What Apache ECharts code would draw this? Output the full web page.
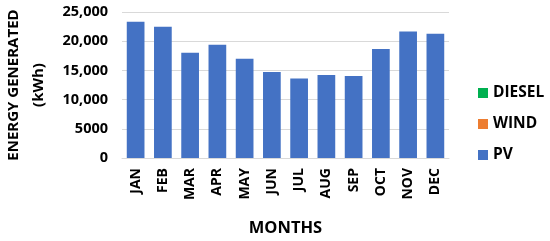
<!DOCTYPE html>
<html>
<head>
<meta charset="utf-8">
<script src="https://cdn.jsdelivr.net/npm/echarts@6/dist/echarts.min.js"></script>
<style>
html, body { margin: 0; padding: 0; background: #fff; }
#main { width: 550px; height: 241px; }
</style>
</head>
<body>
<div id="main"></div>
<script>
// months and energy per source (kWh)
var months = ['JAN', 'FEB', 'MAR', 'APR', 'MAY', 'JUN', 'JUL', 'AUG', 'SEP', 'OCT', 'NOV', 'DEC'];
var pv = [23330, 22470, 18040, 19400, 17010, 14730, 13600, 14220, 14050, 18650, 21670, 21280];
var wind = [0, 0, 0, 0, 0, 0, 0, 0, 0, 0, 0, 0];
var diesel = [0, 0, 0, 0, 0, 0, 0, 0, 0, 0, 0, 0];

var myChart = echarts.init(document.getElementById('main'));

var font = 'Open Sans';

option = {
    backgroundColor: '#ffffff',
    animation: false,
    textStyle: { fontFamily: font },
    legend: {
        orient: 'vertical',
        left: 473,
        top: 80,
        itemWidth: 10,
        itemHeight: 10,
        itemGap: 15,
        icon: 'rect',
        data: ['DIESEL', 'WIND', 'PV'],
        textStyle: {
            fontFamily: font,
            fontWeight: 'bold',
            fontSize: 15.5,
            color: '#000'
        }
    },
    grid: {
        left: 122,
        right: 101,
        top: 12,
        bottom: 83,
        containLabel: false,
        outerBoundsMode: 'none'
    },
    xAxis: {
        type: 'category',
        data: months,
        name: 'MONTHS',
        nameLocation: 'middle',
        nameGap: 62,
        nameTextStyle: {
            fontFamily: font,
            fontWeight: 'bold',
            fontSize: 16.5,
            color: '#000'
        },
        axisTick: { show: false },
        axisLine: { lineStyle: { color: '#d9d9d9' } },
        axisLabel: {
            rotate: 90,
            fontFamily: font,
            fontWeight: 'bold',
            fontSize: 14,
            color: '#000',
            margin: 10
        }
    },
    yAxis: {
        type: 'value',
        min: 0,
        max: 25000,
        interval: 5000,
        name: 'ENERGY GENERATED\n(kWh)',
        nameLocation: 'middle',
        nameGap: 64,
        nameRotate: 90,
        nameTextStyle: {
            fontFamily: font,
            fontWeight: 'bold',
            fontSize: 15,
            color: '#000',
            lineHeight: 25
        },
        splitLine: { lineStyle: { color: '#d9d9d9' } },
        axisLabel: {
            fontFamily: font,
            fontWeight: 'bold',
            fontSize: 14.5,
            color: '#000',
            margin: 14,
            formatter: function (v) {
                return v >= 10000 ? v.toLocaleString('en-US') : String(v);
            }
        }
    },
    series: [{
        name: 'PV',
        type: 'bar',
        stack: 'e',
        data: pv,
        barCategoryGap: '35%',
        itemStyle: { color: '#4472c4' }
    }, {
        name: 'WIND',
        type: 'bar',
        stack: 'e',
        data: wind,
        itemStyle: { color: '#ed7d31' }
    }, {
        name: 'DIESEL',
        type: 'bar',
        stack: 'e',
        data: diesel,
        itemStyle: { color: '#00b050' }
    }]
};

myChart.setOption(option);
</script>
</body>
</html>
